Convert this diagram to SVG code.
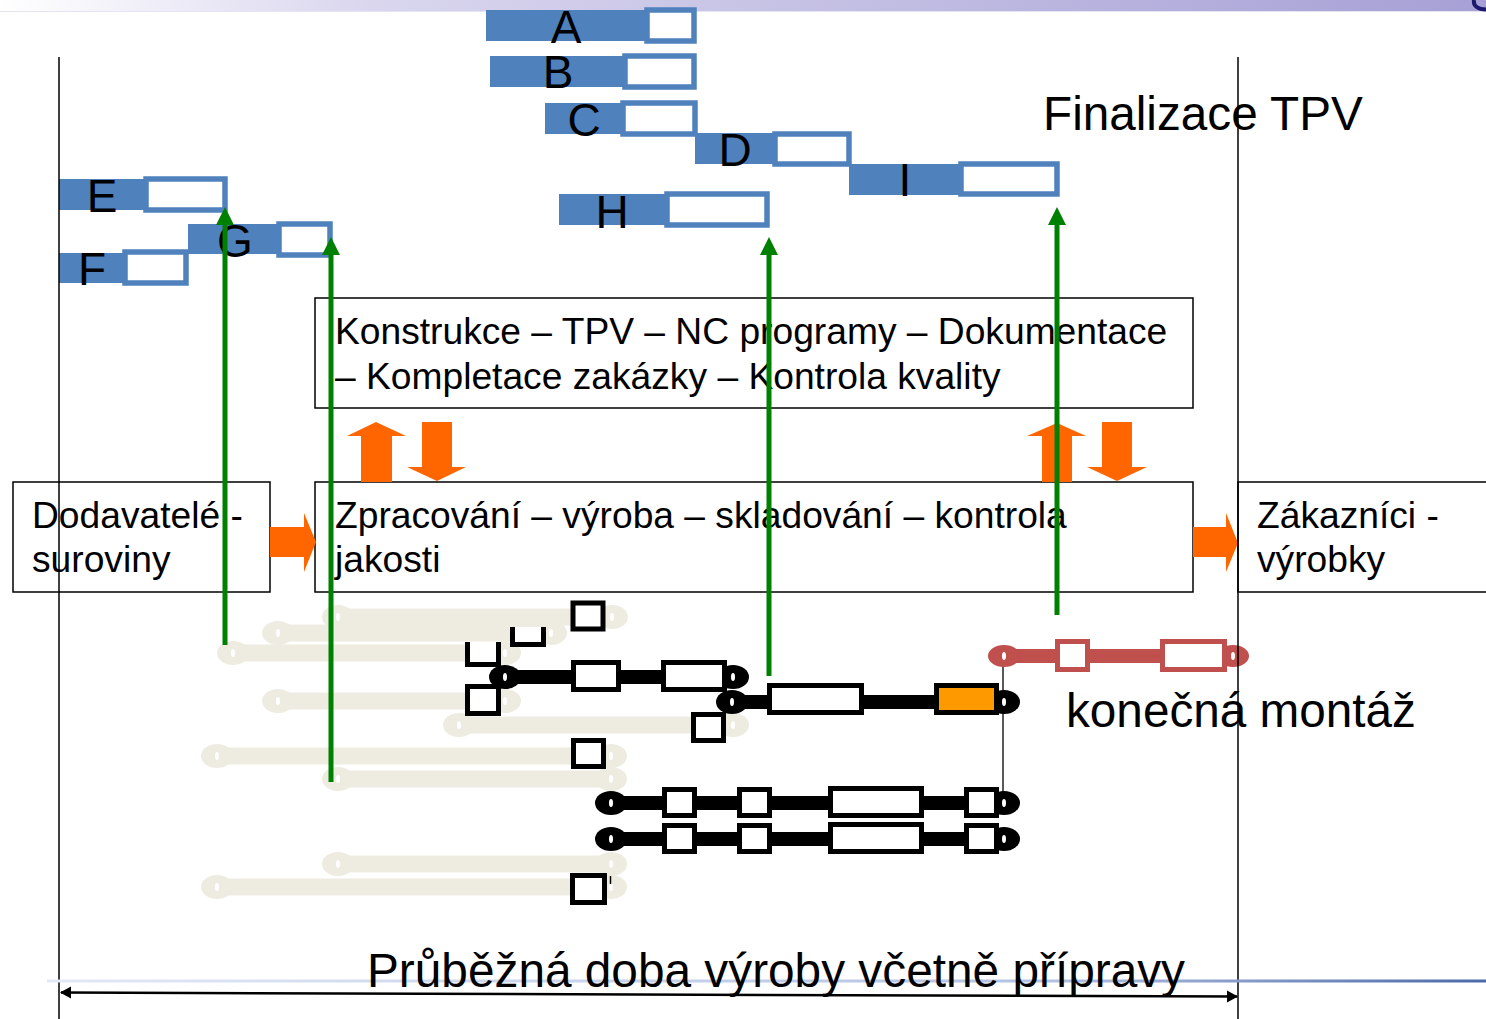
<svg xmlns="http://www.w3.org/2000/svg" width="1486" height="1019" viewBox="0 0 1486 1019">
<defs>
<linearGradient id="topg" x1="0" y1="0" x2="1" y2="0">
<stop offset="0" stop-color="#ffffff"/>
<stop offset="0.25" stop-color="#d9d6ee"/>
<stop offset="1" stop-color="#a6a0d5"/>
</linearGradient>
<linearGradient id="botg" x1="0" y1="0" x2="1" y2="0">
<stop offset="0" stop-color="#e3e8f6"/>
<stop offset="0.7" stop-color="#b3c1e2"/>
<stop offset="1" stop-color="#4a6aa8"/>
</linearGradient>
<marker id="ga" markerUnits="userSpaceOnUse" markerWidth="20" markerHeight="20" refX="8" refY="9" orient="auto">
<path d="M0,0 L18,9 L0,18 Z" fill="#008000"/>
</marker>
<marker id="ka" markerUnits="userSpaceOnUse" markerWidth="14" markerHeight="14" refX="10" refY="6" orient="auto-start-reverse">
<path d="M0,0 L11,6 L0,12 Z" fill="#000"/>
</marker>
<style>
.bf{fill:#4f81bd}
.bo{fill:#fff;stroke:#4f81bd;stroke-width:5.5}
.lbl{font-family:"Liberation Sans",Arial,sans-serif;font-size:46px;text-anchor:middle;fill:#000}
.box{fill:#fff;stroke:#000;stroke-width:1.5}
.t37{font-family:"Liberation Sans",Arial,sans-serif;font-size:37.2px;fill:#000}
.t47{font-family:"Liberation Sans",Arial,sans-serif;font-size:47.7px;fill:#000}
.bg{stroke:#eeece1;stroke-width:17}
.bc{fill:#eeece1}
.dot{fill:#fff}
.blk{stroke:#000;stroke-width:14}
.kc{fill:#000}
.bbox{fill:#fff;stroke:#000;stroke-width:5}
.red{stroke:#c0504d;stroke-width:14}
.rc{fill:#c0504d}
.rbox{fill:#fff;stroke:#c0504d;stroke-width:5}
.grn{stroke:#008000;stroke-width:5;fill:none;marker-end:url(#ga)}
.org{fill:#ff6600}
.vl{stroke:#000;stroke-width:1.5}
</style>
</defs>
<rect width="1486" height="1019" fill="#fff"/>
<rect x="0" y="0" width="1486" height="11" fill="url(#topg)"/>
<line x1="0" y1="11.5" x2="1486" y2="11.5" stroke="#e6e4f3" stroke-width="1"/>
<path d="M1474 0 C1473 6 1478 9.5 1486 9.5" stroke="#1c1a6b" stroke-width="4" fill="none"/>

<g id="bars-tpv">
<g id="node-A"><rect class="bf" x="486" y="10" width="162" height="31"/><rect class="bo" x="647" y="10" width="47" height="31"/><text class="lbl" x="566" y="43">A</text></g>
<g id="node-B"><rect class="bf" x="490" y="56" width="136" height="31"/><rect class="bo" x="625" y="56" width="69" height="31"/><text class="lbl" x="558" y="88">B</text></g>
<g id="node-C"><rect class="bf" x="545" y="103" width="77" height="31"/><rect class="bo" x="623" y="103" width="72" height="31"/><text class="lbl" x="584" y="136">C</text></g>
<g id="node-D"><rect class="bf" x="695" y="133" width="80" height="31"/><rect class="bo" x="775" y="134" width="74" height="30"/><text class="lbl" x="735" y="166">D</text></g>
<g id="node-I"><rect class="bf" x="849" y="164" width="113" height="31"/><rect class="bo" x="961" y="164" width="96" height="30"/><text class="lbl" x="905" y="196">I</text></g>
<g id="node-H"><rect class="bf" x="559" y="194" width="108" height="31"/><rect class="bo" x="667" y="194" width="100" height="31"/><text class="lbl" x="612" y="228">H</text></g>
<g id="node-E"><rect class="bf" x="59" y="179" width="88" height="31"/><rect class="bo" x="146" y="179" width="79" height="31"/><text class="lbl" x="102" y="212">E</text></g>
<g id="node-G"><rect class="bf" x="188" y="224" width="92" height="30"/><rect class="bo" x="279" y="224" width="51" height="31"/><text class="lbl" x="235" y="257">G</text></g>
<g id="node-F"><rect class="bf" x="59" y="253" width="66" height="30"/><rect class="bo" x="125" y="252" width="61" height="31"/><text class="lbl" x="92" y="285">F</text></g>
</g>

<g id="title-finalizace"><text class="t47" x="1043" y="130">Finalizace TPV</text></g>

<g id="node-konstrukce">
<rect class="box" x="315" y="298" width="878" height="110"/>
<text class="t37" x="335" y="344">Konstrukce – TPV – NC programy – Dokumentace</text>
<text class="t37" x="335" y="389">– Kompletace zakázky – Kontrola kvality</text>
</g>
<g id="node-dodavatele">
<rect class="box" x="13" y="482" width="257" height="110"/>
<text class="t37" x="32" y="528">Dodavatelé -</text>
<text class="t37" x="32" y="572">suroviny</text>
</g>
<g id="node-zpracovani">
<rect class="box" x="315" y="482" width="878" height="110"/>
<text class="t37" x="335" y="528">Zpracování – výroba – skladování – kontrola</text>
<text class="t37" x="335" y="572">jakosti</text>
</g>
<g id="node-zakaznici">
<rect class="box" x="1238" y="482" width="260" height="110"/>
<text class="t37" x="1257" y="528">Zákazníci -</text>
<text class="t37" x="1257" y="572">výrobky</text>
</g>

<g id="beige-bars">
<line class="bg" x1="338" y1="617" x2="612" y2="617"/><ellipse class="bc" cx="338" cy="617" rx="16" ry="12"/><ellipse class="bc" cx="612" cy="617" rx="16" ry="12"/>
<line class="bg" x1="278" y1="633" x2="551" y2="633"/><ellipse class="bc" cx="278" cy="633" rx="16" ry="12"/><ellipse class="bc" cx="551" cy="633" rx="16" ry="12"/>
<line class="bg" x1="233" y1="653" x2="505" y2="653"/><ellipse class="bc" cx="233" cy="653" rx="16" ry="12"/><ellipse class="bc" cx="505" cy="653" rx="16" ry="12"/>
<line class="bg" x1="278" y1="701" x2="505" y2="701"/><ellipse class="bc" cx="278" cy="701" rx="16" ry="12"/><ellipse class="bc" cx="505" cy="701" rx="16" ry="12"/>
<line class="bg" x1="459" y1="725" x2="733" y2="725"/><ellipse class="bc" cx="459" cy="725" rx="16" ry="12"/><ellipse class="bc" cx="733" cy="725" rx="16" ry="12"/>
<line class="bg" x1="217" y1="756" x2="611" y2="756"/><ellipse class="bc" cx="217" cy="756" rx="16" ry="12"/><ellipse class="bc" cx="611" cy="756" rx="16" ry="12"/>
<line class="bg" x1="338" y1="779" x2="611" y2="779"/><ellipse class="bc" cx="338" cy="779" rx="16" ry="12"/><ellipse class="bc" cx="611" cy="779" rx="16" ry="12"/>
<line class="bg" x1="338" y1="864" x2="611" y2="864"/><ellipse class="bc" cx="338" cy="864" rx="16" ry="12"/><ellipse class="bc" cx="611" cy="864" rx="16" ry="12"/>
<line class="bg" x1="217" y1="887" x2="611" y2="887"/><ellipse class="bc" cx="217" cy="887" rx="16" ry="12"/><ellipse class="bc" cx="611" cy="887" rx="16" ry="12"/>
<g class="dot">
<ellipse cx="338" cy="617" rx="2" ry="4"/><ellipse cx="612" cy="617" rx="2" ry="4"/>
<ellipse cx="278" cy="633" rx="2" ry="4"/><ellipse cx="551" cy="633" rx="2" ry="4"/>
<ellipse cx="233" cy="653" rx="2" ry="4"/><ellipse cx="505" cy="653" rx="2" ry="4"/>
<ellipse cx="278" cy="701" rx="2" ry="4"/><ellipse cx="505" cy="701" rx="2" ry="4"/>
<ellipse cx="459" cy="725" rx="2" ry="4"/><ellipse cx="733" cy="725" rx="2" ry="4"/>
<ellipse cx="217" cy="756" rx="2" ry="4"/><ellipse cx="611" cy="756" rx="2" ry="4"/>
<ellipse cx="338" cy="779" rx="2" ry="4"/><ellipse cx="611" cy="779" rx="2" ry="4"/>
<ellipse cx="338" cy="864" rx="2" ry="4"/><ellipse cx="611" cy="864" rx="2" ry="4"/>
<ellipse cx="217" cy="887" rx="2" ry="4"/><ellipse cx="611" cy="887" rx="2" ry="4"/>
</g>
</g>

<g id="small-boxes">
<rect class="bbox" x="573" y="603" width="30" height="26"/>
<path d="M512.5 627 V644.5 H543.5 V627" fill="#fff" stroke="#000" stroke-width="5"/>
<path d="M467.5 642 V664.5 H498.5 V642" fill="#fff" stroke="#000" stroke-width="5"/>
<rect class="bbox" x="467.5" y="686.5" width="31" height="27"/>
<rect class="bbox" x="693.5" y="714.5" width="30" height="26"/>
<rect class="bbox" x="573.5" y="740.5" width="30" height="26"/>
<rect class="bbox" x="572.5" y="875.5" width="32" height="27"/>
<line x1="610.5" y1="876" x2="610.5" y2="884" stroke="#000" stroke-width="1.5"/>
</g>

<g id="line-montaz"><line x1="1003" y1="657" x2="1003" y2="803" stroke="#222" stroke-width="1.5"/></g>

<g id="black-bars">
<line class="blk" x1="505" y1="677" x2="733" y2="677"/><ellipse class="kc" cx="505" cy="677" rx="16" ry="12"/><ellipse class="kc" cx="733" cy="677" rx="16" ry="12"/>
<rect class="bbox" x="573.5" y="662.5" width="45" height="27"/>
<rect class="bbox" x="663.5" y="662.5" width="61" height="27"/>
<line class="blk" x1="732" y1="702" x2="1004" y2="702"/><ellipse class="kc" cx="732" cy="702" rx="16" ry="12"/><ellipse class="kc" cx="1004" cy="702" rx="16" ry="12"/>
<rect class="bbox" x="769.5" y="685.5" width="92" height="27"/>
<rect class="bbox" x="936.5" y="685.5" width="60" height="27" style="fill:#ff9900"/>
<line class="blk" x1="611" y1="803" x2="1004" y2="803"/><ellipse class="kc" cx="611" cy="803" rx="16" ry="12"/><ellipse class="kc" cx="1004" cy="803" rx="16" ry="12"/>
<rect class="bbox" x="664.5" y="789.5" width="30" height="26"/>
<rect class="bbox" x="739.5" y="789.5" width="30" height="26"/>
<rect class="bbox" x="830.5" y="788.5" width="91" height="27"/>
<rect class="bbox" x="966.5" y="789.5" width="30" height="26"/>
<line class="blk" x1="611" y1="839" x2="1004" y2="839"/><ellipse class="kc" cx="611" cy="839" rx="16" ry="12"/><ellipse class="kc" cx="1004" cy="839" rx="16" ry="12"/>
<rect class="bbox" x="664.5" y="825.5" width="30" height="26"/>
<rect class="bbox" x="739.5" y="825.5" width="30" height="26"/>
<rect class="bbox" x="830.5" y="824.5" width="91" height="27"/>
<rect class="bbox" x="966.5" y="825.5" width="30" height="26"/>
<g class="dot">
<ellipse cx="505" cy="677" rx="2" ry="4"/><ellipse cx="733" cy="677" rx="2" ry="4"/>
<ellipse cx="732" cy="702" rx="2" ry="4"/><ellipse cx="1004" cy="702" rx="2" ry="4"/>
<ellipse cx="611" cy="803" rx="2" ry="4"/><ellipse cx="1004" cy="803" rx="2" ry="4"/>
<ellipse cx="611" cy="839" rx="2" ry="4"/><ellipse cx="1004" cy="839" rx="2" ry="4"/>
</g>
</g>

<g id="red-bar">
<line class="red" x1="1004" y1="656" x2="1233" y2="656"/><ellipse class="rc" cx="1004" cy="656" rx="16" ry="11"/><ellipse class="rc" cx="1233" cy="656" rx="16" ry="11"/>
<rect class="rbox" x="1057.5" y="641.5" width="30" height="28"/>
<rect class="rbox" x="1162.5" y="641.5" width="62" height="28"/>
<ellipse class="dot" cx="1004" cy="656" rx="2" ry="4"/><ellipse class="dot" cx="1233" cy="656" rx="2" ry="4"/>
</g>

<g id="label-montaz"><text class="t47" x="1066" y="727">konečná montáž</text></g>

<g id="connectors">
<polygon class="org" points="270,527 304,527 304,513 316,542 304,572 304,557 270,557"/>
<polygon class="org" points="1193,527 1226,527 1226,513 1238,543 1226,572 1226,557 1193,557"/>
<polygon class="org" points="361,482 361,436 347,436 376,422 406,436 392,436 392,482"/>
<polygon class="org" points="422,422 452,422 452,467 466,467 437,481 407,467 422,467"/>
<polygon class="org" points="1042,482 1042,436 1027,436 1057,423 1086,436 1072,436 1072,482"/>
<polygon class="org" points="1102,422 1132,422 1132,467 1147,467 1117,481 1087,467 1102,467"/>
<line class="grn" x1="225" y1="645" x2="225" y2="217"/>
<line class="grn" x1="331" y1="782" x2="331" y2="247"/>
<line class="grn" x1="769" y1="676" x2="769" y2="247"/>
<line class="grn" x1="1057" y1="615" x2="1057" y2="217"/>
</g>

<g id="frame">
<line class="vl" x1="59" y1="57" x2="59" y2="1019"/>
<line class="vl" x1="1238" y1="57" x2="1238" y2="1019"/>
<rect x="47" y="979.5" width="1439" height="3" fill="url(#botg)"/>
</g>

<g id="duration">
<text x="367" y="987" font-family="'Liberation Sans',Arial,sans-serif" font-size="48" fill="#000" textLength="818" lengthAdjust="spacingAndGlyphs">Průběžná doba výroby včetně přípravy</text>
<line x1="61" y1="992.5" x2="1237" y2="996.5" stroke="#000" stroke-width="2.5" marker-start="url(#ka)" marker-end="url(#ka)"/>
</g>
</svg>
